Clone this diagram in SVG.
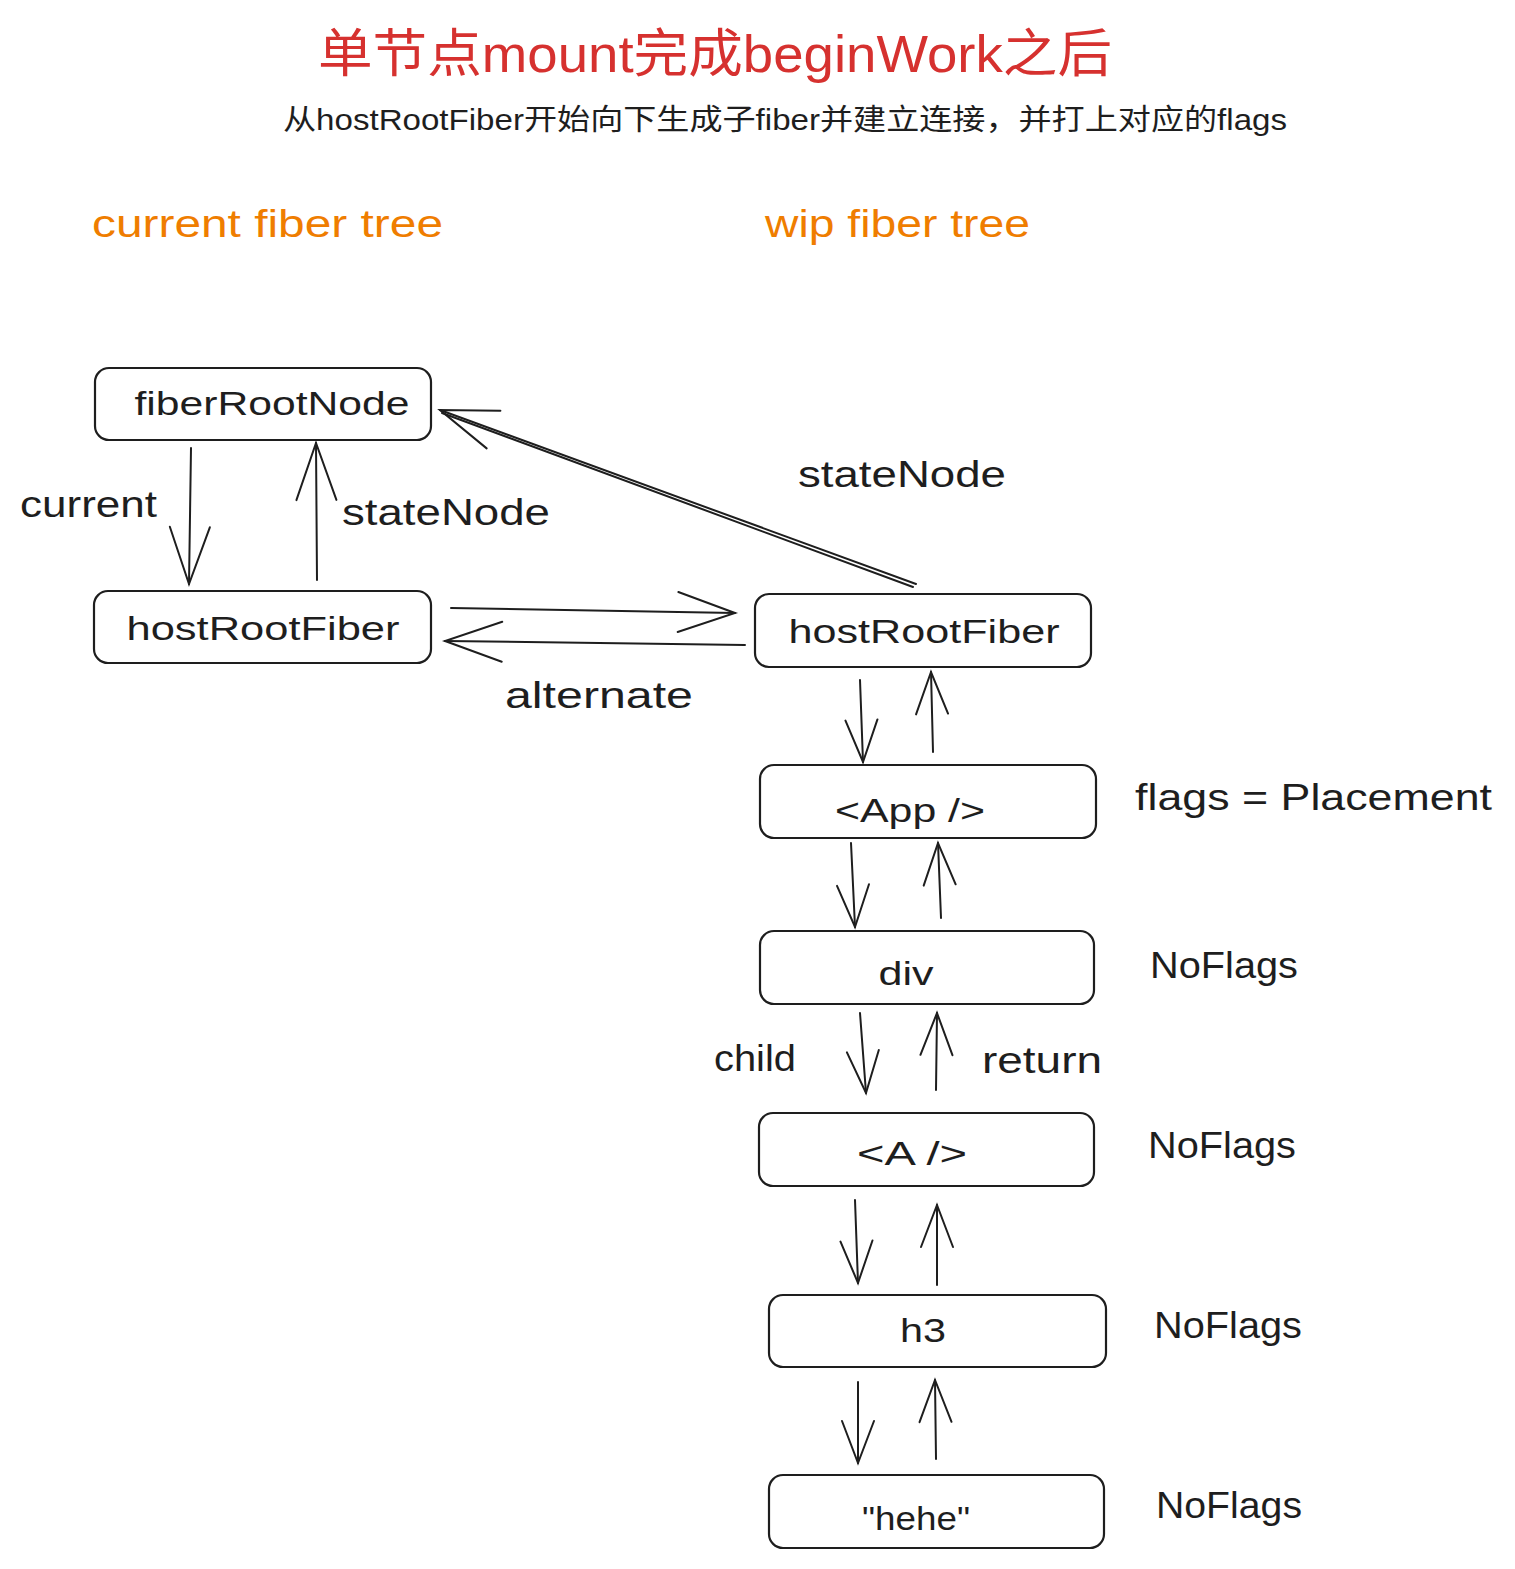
<svg xmlns="http://www.w3.org/2000/svg" width="1515" height="1569" viewBox="0 0 1515 1569">
<style>
text{font-family:"Liberation Sans","Noto Sans CJK SC",sans-serif;fill:#1e1e1e}
.title{fill:#d6312f;font-size:52px}
.sub{font-size:29px}
.tree{fill:#ef7d00;font-size:38px}
.nt{font-size:34px;text-anchor:middle}
.lb{font-size:36px}
.box{fill:#fff;stroke:#1e1e1e;stroke-width:2.2}
.ln{fill:none;stroke:#1e1e1e;stroke-width:2;stroke-linecap:round}
</style>
<defs>
<marker id="ah" viewBox="-45 -22 50 44" markerWidth="50" markerHeight="44" refX="0" refY="0" orient="auto" markerUnits="userSpaceOnUse">
<path d="M -42 -16 L 0 0 L -42 16" fill="none" stroke="#1e1e1e" stroke-width="2" stroke-linecap="round"/>
</marker>
<marker id="ahL" viewBox="-60 -25 65 50" markerWidth="65" markerHeight="50" refX="0" refY="0" orient="auto" markerUnits="userSpaceOnUse">
<path d="M -57 -20 L 0 0 L -57 20" fill="none" stroke="#1e1e1e" stroke-width="2" stroke-linecap="round"/>
</marker>
</defs>
<rect width="1515" height="1569" fill="#fff"/>

<text class="title" x="318" y="72" textLength="794" lengthAdjust="spacingAndGlyphs">单节点mount完成beginWork之后</text>
<text class="sub" x="283" y="130" textLength="1004" lengthAdjust="spacingAndGlyphs">从hostRootFiber开始向下生成子fiber并建立连接，并打上对应的flags</text>
<text class="tree" x="92" y="237" textLength="351" lengthAdjust="spacingAndGlyphs">current fiber tree</text>
<text class="tree" x="765" y="237" textLength="265" lengthAdjust="spacingAndGlyphs">wip fiber tree</text>

<g id="connectors">
<path class="ln" d="M191 448 L189 584" marker-end="url(#ahL)"/>
<path class="ln" d="M317 580 L316 443" marker-end="url(#ahL)"/>
<path class="ln" d="M916 584 L440 410" marker-end="url(#ahL)"/>
<path class="ln" d="M913 587 L442 413"/>
<path class="ln" d="M451 608 L735 613" marker-end="url(#ahL)"/>
<path class="ln" d="M745 645 L445 641" marker-end="url(#ahL)"/>
<path class="ln" d="M860 680 L863 762" marker-end="url(#ah)"/>
<path class="ln" d="M933 752 L931 672" marker-end="url(#ah)"/>
<path class="ln" d="M851 843 L855 927" marker-end="url(#ah)"/>
<path class="ln" d="M941 918 L938 843" marker-end="url(#ah)"/>
<path class="ln" d="M860 1013 L866 1093" marker-end="url(#ah)"/>
<path class="ln" d="M936 1090 L937 1013" marker-end="url(#ah)"/>
<path class="ln" d="M855 1200 L858 1283" marker-end="url(#ah)"/>
<path class="ln" d="M937 1285 L937 1205" marker-end="url(#ah)"/>
<path class="ln" d="M858 1382 L858 1463" marker-end="url(#ah)"/>
<path class="ln" d="M936 1459 L935 1380" marker-end="url(#ah)"/>
</g>

<g id="labels">
<text class="lb" x="20" y="517" textLength="137" lengthAdjust="spacingAndGlyphs">current</text>
<text class="lb" x="342" y="525" textLength="208" lengthAdjust="spacingAndGlyphs">stateNode</text>
<text class="lb" x="798" y="487" textLength="208" lengthAdjust="spacingAndGlyphs">stateNode</text>
<text class="lb" x="505" y="708" textLength="188" lengthAdjust="spacingAndGlyphs">alternate</text>
<text class="lb" x="1135" y="810" textLength="357" lengthAdjust="spacingAndGlyphs">flags = Placement</text>
<text class="lb" x="1150" y="978" textLength="148" lengthAdjust="spacingAndGlyphs">NoFlags</text>
<text class="lb" x="714" y="1071" textLength="82" lengthAdjust="spacingAndGlyphs">child</text>
<text class="lb" x="982" y="1073" textLength="120" lengthAdjust="spacingAndGlyphs">return</text>
<text class="lb" x="1148" y="1158" textLength="148" lengthAdjust="spacingAndGlyphs">NoFlags</text>
<text class="lb" x="1154" y="1338" textLength="148" lengthAdjust="spacingAndGlyphs">NoFlags</text>
<text class="lb" x="1156" y="1518" textLength="146" lengthAdjust="spacingAndGlyphs">NoFlags</text>
</g>

<g id="fiberRootNode">
<rect class="box" x="95" y="368" width="336" height="72" rx="14"/>
<text class="nt" x="272" y="415" textLength="275" lengthAdjust="spacingAndGlyphs">fiberRootNode</text>
</g>
<g id="hostRootFiber-current">
<rect class="box" x="94" y="591" width="337" height="72" rx="14"/>
<text class="nt" x="263" y="640" textLength="273" lengthAdjust="spacingAndGlyphs">hostRootFiber</text>
</g>
<g id="hostRootFiber-wip">
<rect class="box" x="755" y="594" width="336" height="73" rx="14"/>
<text class="nt" x="924" y="643" textLength="271" lengthAdjust="spacingAndGlyphs">hostRootFiber</text>
</g>
<g id="App">
<rect class="box" x="760" y="765" width="336" height="73" rx="14"/>
<text class="nt" x="910" y="822" textLength="150" lengthAdjust="spacingAndGlyphs">&lt;App /&gt;</text>
</g>
<g id="div">
<rect class="box" x="760" y="931" width="334" height="73" rx="14"/>
<text class="nt" x="906" y="985" textLength="55" lengthAdjust="spacingAndGlyphs">div</text>
</g>
<g id="A">
<rect class="box" x="759" y="1113" width="335" height="73" rx="14"/>
<text class="nt" x="912" y="1165" textLength="110" lengthAdjust="spacingAndGlyphs">&lt;A /&gt;</text>
</g>
<g id="h3">
<rect class="box" x="769" y="1295" width="337" height="72" rx="14"/>
<text class="nt" x="923" y="1342" textLength="46" lengthAdjust="spacingAndGlyphs">h3</text>
</g>
<g id="hehe">
<rect class="box" x="769" y="1475" width="335" height="73" rx="14"/>
<text class="nt" x="916" y="1530" textLength="108" lengthAdjust="spacingAndGlyphs">"hehe"</text>
</g>
</svg>
